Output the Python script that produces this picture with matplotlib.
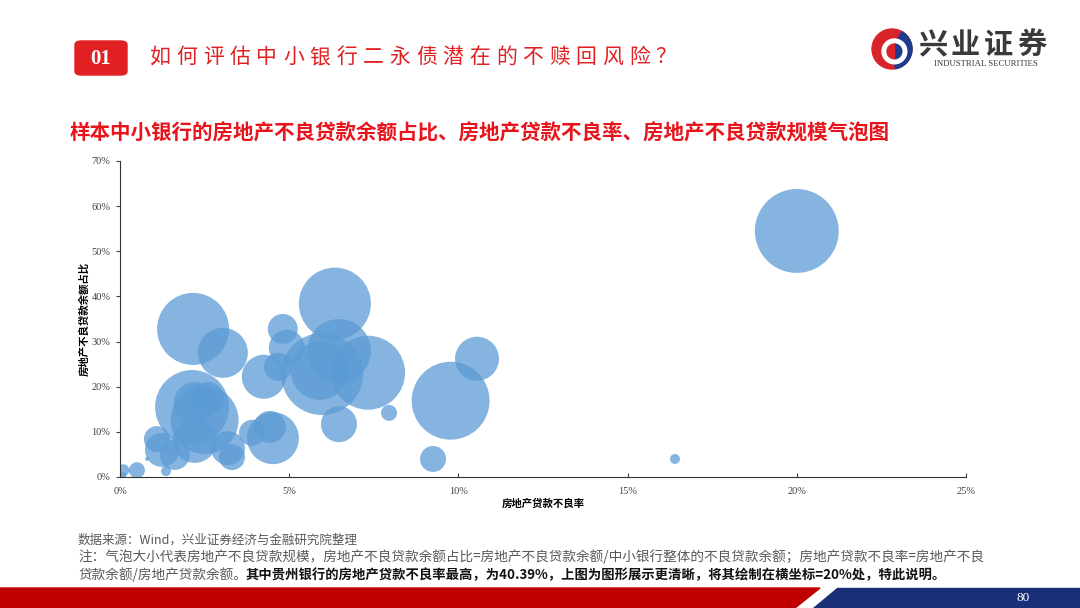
import matplotlib.pyplot as plt
import matplotlib.patches as mpatches
import numpy as np

plt.rcParams['font.family'] = ['Noto Sans CJK SC', 'DejaVu Sans']

# 数据：房地产贷款不良率(%)、房地产不良贷款余额占比(%)、房地产不良贷款规模(相对值)
npl_rate = [20.0, 6.35, 2.16, 3.04, 4.81, 4.93, 4.25, 4.67, 5.97, 6.47,
            7.33, 5.9, 6.47, 7.95, 10.55, 9.77, 9.25, 16.4, 2.13, 2.5,
            2.21, 2.6, 2.21, 3.19, 3.31, 3.9, 4.43, 4.52, 1.09, 1.24,
            1.62, 1.36, 0.8, 0.5, 0.1, 0.1]
npl_share = [54.5, 38.4, 32.8, 27.5, 32.8, 28.6, 22.2, 24.4, 22.8, 27.9,
             23.1, 23.5, 11.7, 14.2, 26.2, 16.9, 4.0, 4.0, 15.5, 12.6,
             16.4, 17.5, 8.0, 6.4, 4.4, 9.8, 11.1, 8.6, 8.4, 6.0,
             4.9, 1.3, 4.0, 1.5, 1.5, 0.4]
npl_size = [1760, 1300, 1300, 625, 225, 324, 484, 196, 1680, 1024,
            1370, 841, 324, 64, 484, 1520, 169, 25, 1370, 1156,
            441, 256, 484, 289, 169, 169, 256, 676, 169, 289,
            225, 25, 4, 64, 36, 9]

x_ticks = [0, 5, 10, 15, 20, 25]
y_ticks = [0, 10, 20, 30, 40, 50, 60, 70]

W, H = 1080, 608
fig = plt.figure(figsize=(W / 100, H / 100), dpi=100)


def fx(x):
    return x / W


def fy(y):
    return 1 - y / H


def spaced(x, y, s, pitch, **kw):
    # 逐字放置，模拟字间距
    for i, ch in enumerate(s):
        fig.text(fx(x + i * pitch), fy(y), ch, ha='left', va='center', **kw)


# 页眉
fig.patches.append(mpatches.FancyBboxPatch((fx(75), fy(75)), fx(52), 34 / H,
                                           boxstyle='round,pad=0,rounding_size=0.006',
                                           transform=fig.transFigure, color='#E02022'))
fig.text(fx(101), fy(59), '01', ha='center', va='center', color='white',
         fontsize=15, fontweight='bold', family='Liberation Serif')
spaced(150, 57, '如何评估中小银行二永债潜在的不赎回风险？', 26.6,
       color='#E02022', fontsize=15)

# logo
lax = fig.add_axes([fx(871), fy(70), 42 / W, 42 / H])
lax.set_aspect('equal')
lax.axis('off')
lax.set_xlim(-1.05, 1.05)
lax.set_ylim(-1.05, 1.05)
lax.add_patch(mpatches.Circle((0, 0), 1, color='#D9232A'))
lax.add_patch(mpatches.Wedge((0, 0), 1, -80, 60, color='#1D3C8F'))
lax.add_patch(mpatches.Wedge((0.12, -0.12), 0.62, 0, 360, width=0.25, color='white'))
lax.add_patch(mpatches.Wedge((0.12, -0.12), 0.37, -90, 90, color='#1D3C8F'))
lax.add_patch(mpatches.Wedge((0.12, -0.12), 0.37, 90, 270, color='#D9232A'))
spaced(918, 45, '兴业证券', 33, color='#3A3A3A', fontsize=21, fontweight='bold')
fig.text(fx(986), fy(64), 'INDUSTRIAL SECURITIES', ha='center', va='center',
         color='#3A3A3A', fontsize=6.3, family='Liberation Serif')

# 图标题
fig.text(fx(70), fy(133), '样本中小银行的房地产不良贷款余额占比、房地产贷款不良率、房地产不良贷款规模气泡图',
         ha='left', va='center', color='#E8141B', fontsize=14.8, fontweight='bold')

# 气泡图
ax = fig.add_axes([fx(120), fy(477), (966 - 120) / W, (477 - 161) / H])
ax.scatter(npl_rate, npl_share, s=np.array(npl_size) * 2.07, color='#5B9BD5',
           alpha=0.75, linewidths=0)
ax.set_xlim(0, 25)
ax.set_ylim(0, 70)
ax.set_xticks(x_ticks)
ax.set_xticklabels([f'{t}%' for t in x_ticks])
ax.set_yticks(y_ticks)
ax.set_yticklabels([f'{t}%' for t in y_ticks])
for lab in ax.get_xticklabels() + ax.get_yticklabels():
    lab.set_family('Liberation Serif')
    lab.set_fontsize(7.5)
    lab.set_color('#404040')
ax.tick_params(axis='x', direction='in', length=3, width=0.8, pad=7, color='#404040')
ax.tick_params(axis='y', direction='out', length=3, width=0.8, pad=4, color='#404040')
ax.spines['top'].set_visible(False)
ax.spines['right'].set_visible(False)
ax.spines['left'].set_color('#333333')
ax.spines['bottom'].set_color('#333333')
ax.set_xlabel('房地产贷款不良率', fontsize=7.5, fontweight='bold', labelpad=2)
ax.set_ylabel('房地产不良贷款余额占比', fontsize=7.5, fontweight='bold', labelpad=1)

# 注释
fig.text(fx(78), fy(540), '数据来源：Wind，兴业证券经济与金融研究院整理', ha='left', va='center',
         color='#595959', fontsize=9)
fig.text(fx(78), fy(557), '注：气泡大小代表房地产不良贷款规模，房地产不良贷款余额占比=房地产不良贷款余额/中小银行整体的不良贷款余额；房地产贷款不良率=房地产不良',
         ha='left', va='center', color='#595959', fontsize=9.8)
fig.text(fx(78), fy(575), '贷款余额/房地产贷款余额。', ha='left', va='center',
         color='#595959', fontsize=9.8)
fig.text(fx(246), fy(575), '其中贵州银行的房地产贷款不良率最高，为40.39%，上图为图形展示更清晰，将其绘制在横坐标=20%处，特此说明。',
         ha='left', va='center', color='#111111', fontsize=9.6, fontweight='bold')

# 页脚色带
fig.patches.append(mpatches.Polygon([(0, fy(588)), (fx(820), fy(588)), (fx(795), 0), (0, 0)],
                                    closed=True, color='#C00000', transform=fig.transFigure))
fig.patches.append(mpatches.Polygon([(fx(837), fy(588)), (1, fy(588)), (1, 0), (fx(813), 0)],
                                    closed=True, color='#1B2F78', transform=fig.transFigure))
fig.text(fx(1023), fy(598), '80', ha='center', va='center', color='white',
         fontsize=9.5, family='Liberation Serif')

plt.savefig('out.png', dpi=100)
